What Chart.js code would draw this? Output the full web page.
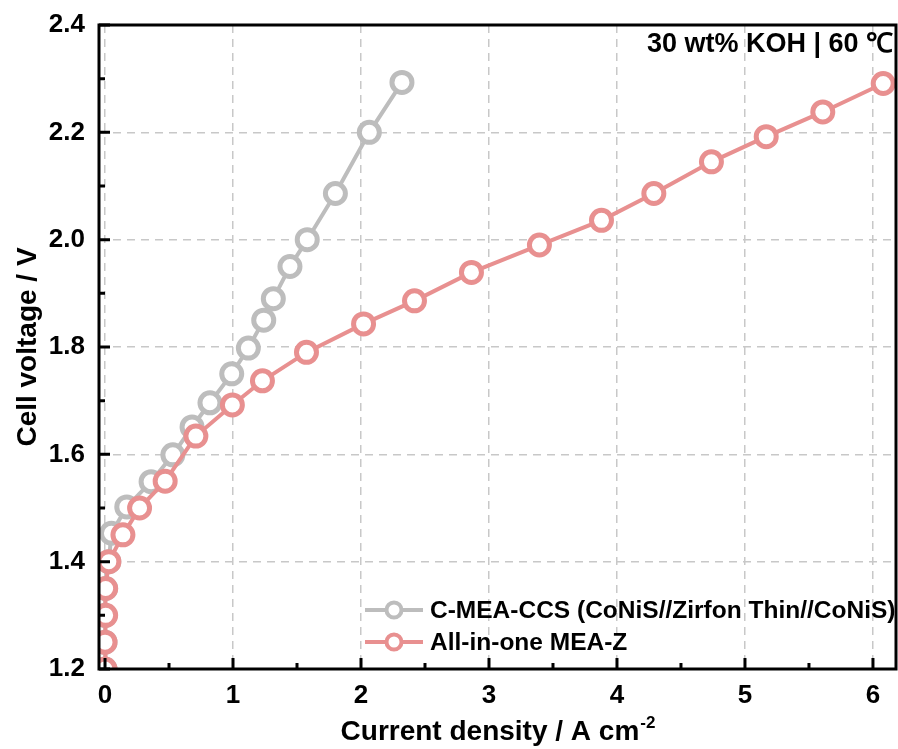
<!DOCTYPE html>
<html>
<head>
<meta charset="utf-8">
<script src="https://cdn.jsdelivr.net/npm/chart.js@4"></script>
<style>
  body { margin: 0; background: #fff; }
  #wrap { width: 898px; height: 749px; }
</style>
</head>
<body>
<div id="wrap"><canvas id="polChart" width="898" height="749"></canvas></div>
<script>
// Datos
const ccsLabel = 'C-MEA-CCS (CoNiS//Zirfon Thin//CoNiS)';
const ccsJ = [0, 0, 0, 0.005, 0.03, 0.05, 0.17, 0.36, 0.53, 0.68, 0.82, 0.99, 1.12, 1.24, 1.315, 1.445, 1.58, 1.80, 2.065, 2.32];
const ccsV = [1.20, 1.25, 1.30, 1.35, 1.40, 1.453, 1.502, 1.549, 1.599, 1.651, 1.696, 1.75, 1.798, 1.85, 1.89, 1.95, 2.0, 2.086, 2.2, 2.293];

const meaLabel = 'All-in-one MEA-Z';
const meaJ = [0, 0, 0.005, 0.005, 0.03, 0.14, 0.27, 0.47, 0.71, 0.995, 1.23, 1.574, 2.02, 2.418, 2.863, 3.394, 3.879, 4.288, 4.738, 5.166, 5.608, 6.08];
const meaV = [1.20, 1.25, 1.30, 1.35, 1.40, 1.45, 1.50, 1.55, 1.634, 1.692, 1.737, 1.79, 1.843, 1.886, 1.939, 1.990, 2.036, 2.086, 2.145, 2.192, 2.238, 2.291];

const xTicks = [0, 1, 2, 3, 4, 5, 6];
const xMinor = [0.5, 1.5, 2.5, 3.5, 4.5, 5.5];
const yTicks = [1.2, 1.4, 1.6, 1.8, 2.0, 2.2, 2.4];
const yMinor = [1.3, 1.5, 1.7, 1.9, 2.1, 2.3];

const FONT = "'Liberation Sans', Arial, sans-serif";
const ROJO = '#e89090';
const GRIS = '#bdbdbd';

function puntos(xs, ys) {
    return xs.map((x, i) => ({ x: x, y: ys[i] }));
}

// Marco, ticks internos, títulos, leyenda y anotación
const decoPlugin = {
    id: 'deco',
    afterDraw(chart) {
        const ctx = chart.ctx;
        const a = chart.chartArea;
        const sx = chart.scales.x, sy = chart.scales.y;
        ctx.save();
        ctx.strokeStyle = '#000';
        ctx.lineWidth = 3;
        ctx.beginPath();
        xTicks.forEach(v => { const p = sx.getPixelForValue(v); ctx.moveTo(p, a.bottom); ctx.lineTo(p, a.bottom - 11); });
        xMinor.forEach(v => { const p = sx.getPixelForValue(v); ctx.moveTo(p, a.bottom); ctx.lineTo(p, a.bottom - 6); });
        yTicks.forEach(v => { const p = sy.getPixelForValue(v); ctx.moveTo(a.left, p); ctx.lineTo(a.left + 11, p); });
        yMinor.forEach(v => { const p = sy.getPixelForValue(v); ctx.moveTo(a.left, p); ctx.lineTo(a.left + 6, p); });
        ctx.stroke();
        ctx.strokeRect(a.left, a.top, a.right - a.left, a.bottom - a.top);

        ctx.fillStyle = '#000';
        // título eje y
        ctx.save();
        ctx.translate(28, (a.top + a.bottom) / 2);
        ctx.rotate(-Math.PI / 2);
        ctx.font = 'bold 28px ' + FONT;
        ctx.textAlign = 'center';
        ctx.textBaseline = 'middle';
        ctx.fillText('Cell voltage / V', 0, 0);
        ctx.restore();

        // título eje x con superíndice
        ctx.font = 'bold 28px ' + FONT;
        const base = 'Current density / A cm';
        const wBase = ctx.measureText(base).width;
        ctx.font = 'bold 17px ' + FONT;
        const wSup = ctx.measureText('-2').width;
        const x0 = (a.left + a.right) / 2 - (wBase + wSup) / 2;
        ctx.textAlign = 'left';
        ctx.textBaseline = 'alphabetic';
        ctx.font = 'bold 28px ' + FONT;
        ctx.fillText(base, x0, 740);
        ctx.font = 'bold 17px ' + FONT;
        ctx.fillText('-2', x0 + wBase + 1, 728);

        // anotación
        ctx.font = 'bold 27px ' + FONT;
        ctx.textAlign = 'right';
        ctx.textBaseline = 'middle';
        ctx.fillText('30 wt% KOH | 60 \u2103', a.right - 3, 45);

        // leyenda
        const filas = [0, 1];
        filas.forEach((i, k) => {
            const ds = chart.data.datasets[i];
            const y = 610 + k * 32;
            ctx.strokeStyle = ds.borderColor;
            ctx.lineWidth = 4;
            ctx.beginPath();
            ctx.moveTo(365, y); ctx.lineTo(423, y);
            ctx.stroke();
            ctx.beginPath();
            ctx.arc(394, y, 7.5, 0, Math.PI * 2);
            ctx.fillStyle = '#fff';
            ctx.fill();
            ctx.stroke();
            ctx.fillStyle = '#000';
            ctx.font = 'bold 24.5px ' + FONT;
            ctx.textAlign = 'left';
            ctx.textBaseline = 'middle';
            ctx.fillText(ds.label, 430, y + 1);
        });
        ctx.restore();
    }
};

new Chart(document.getElementById('polChart').getContext('2d'), {
    type: 'scatter',
    data: {
        datasets: [{
            label: ccsLabel,
            data: puntos(ccsJ, ccsV),
            showLine: true,
            borderColor: GRIS,
            backgroundColor: '#fff',
            borderWidth: 4,
            pointRadius: 10,
            pointBorderWidth: 5,
            pointBackgroundColor: '#fff',
            pointBorderColor: GRIS,
            order: 1
        }, {
            label: meaLabel,
            data: puntos(meaJ, meaV),
            showLine: true,
            borderColor: ROJO,
            backgroundColor: '#fff',
            borderWidth: 4,
            pointRadius: 10,
            pointBorderWidth: 5,
            pointBackgroundColor: '#fff',
            pointBorderColor: ROJO,
            order: 0
        }]
    },
    options: {
        responsive: false,
        animation: false,
        layout: { autoPadding: false, padding: { top: 25, right: 2, left: 0, bottom: 0 } },
        plugins: { legend: { display: false }, tooltip: { enabled: false } },
        scales: {
            x: {
                type: 'linear',
                min: -0.047,
                max: 6.18,
                afterFit: s => { s.height = 80; s.paddingLeft = 0; s.paddingRight = 0; },
                afterBuildTicks: s => { s.ticks = xTicks.map(v => ({ value: v })); },
                ticks: { color: '#000', padding: 11, font: { family: FONT, size: 26, weight: 'bold' } },
                grid: { color: '#c8c8c8', lineWidth: 1.5, drawTicks: false },
                border: { display: false, dash: [8, 6] }
            },
            y: {
                type: 'linear',
                min: 1.2,
                max: 2.4,
                afterFit: s => { s.width = 99; s.paddingTop = 0; s.paddingBottom = 0; },
                afterBuildTicks: s => { s.ticks = yTicks.map(v => ({ value: v })); },
                ticks: {
                    color: '#000', padding: 14,
                    font: { family: FONT, size: 26, weight: 'bold' },
                    callback: v => v.toFixed(1)
                },
                grid: { color: '#c8c8c8', lineWidth: 1.5, drawTicks: false },
                border: { display: false, dash: [8, 6] }
            }
        }
    },
    plugins: [decoPlugin]
});
</script>
</body>
</html>
